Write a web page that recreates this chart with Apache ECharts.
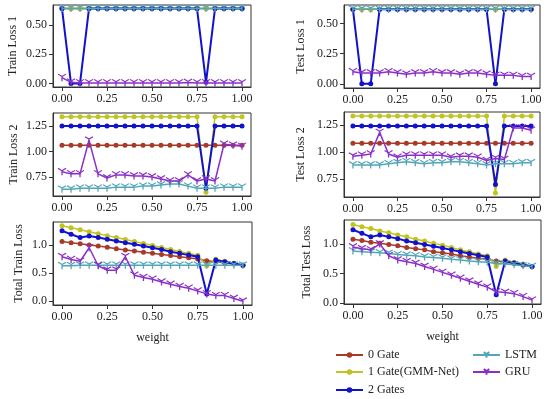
<!DOCTYPE html>
<html><head><meta charset="utf-8">
<script src="https://cdn.jsdelivr.net/npm/echarts@6/dist/echarts.min.js"></script>
<style>html,body{margin:0;padding:0;background:#fff}#c{width:550px;height:399px}</style>
</head><body><div id="c"></div>
<script>
const weights = [0,0.05,0.1,0.15,0.2,0.25,0.3,0.35,0.4,0.45,0.5,0.55,0.6,0.65,0.7,0.75,0.8,0.85,0.9,0.95,1.0];
const seriesNames = ['0 Gate','1 Gate(GMM-Net)','2 Gates','LSTM','GRU'];
const xTicks = [0,0.25,0.5,0.75,1.0];

// Train Loss 1
const trainLoss1_gate0 = [0.64,0.64,0.64,0.64,0.64,0.64,0.64,0.64,0.64,0.64,0.64,0.64,0.64,0.64,0.64,0.64,0.64,0.64,0.64,0.64,0.64];
const trainLoss1_gate1 = [0.64,0.64,0.64,0.64,0.64,0.64,0.64,0.64,0.64,0.64,0.64,0.64,0.64,0.64,0.64,0.64,0.64,0.64,0.64,0.64,0.64];
const trainLoss1_gate2 = [0.64,0.0,0.0,0.64,0.64,0.64,0.64,0.64,0.64,0.64,0.64,0.64,0.64,0.64,0.64,0.64,0.01,0.64,0.64,0.64,0.64];
const trainLoss1_lstm  = [0.64,0.64,0.64,0.64,0.64,0.64,0.64,0.64,0.64,0.64,0.64,0.64,0.64,0.64,0.64,0.64,0.64,0.64,0.64,0.64,0.64];
const trainLoss1_gru   = [0.05,0.01,0.005,0.005,0.005,0.005,0.005,0.005,0.005,0.005,0.005,0.005,0.005,0.005,0.008,0.005,0.005,0.005,0.005,0.005,0.005];

// Test Loss 1
const testLoss1_gate0 = [0.62,0.62,0.62,0.62,0.62,0.62,0.62,0.62,0.62,0.62,0.62,0.62,0.62,0.62,0.62,0.62,0.62,0.62,0.62,0.62,0.62];
const testLoss1_gate1 = [0.62,0.62,0.62,0.62,0.62,0.62,0.62,0.62,0.62,0.62,0.62,0.62,0.62,0.62,0.62,0.62,0.62,0.62,0.62,0.62,0.62];
const testLoss1_gate2 = [0.62,0.0,0.0,0.62,0.62,0.62,0.62,0.62,0.62,0.62,0.62,0.62,0.62,0.62,0.62,0.62,0.0,0.62,0.62,0.62,0.62];
const testLoss1_lstm  = [0.62,0.62,0.62,0.62,0.62,0.62,0.62,0.62,0.62,0.62,0.62,0.62,0.62,0.62,0.62,0.62,0.62,0.62,0.62,0.62,0.62];
const testLoss1_gru   = [0.10,0.09,0.09,0.09,0.10,0.09,0.08,0.09,0.09,0.10,0.09,0.09,0.08,0.09,0.09,0.08,0.07,0.07,0.07,0.06,0.06];

// Train Loss 2
const trainLoss2_gate0 = [1.06,1.06,1.06,1.06,1.06,1.06,1.06,1.06,1.06,1.06,1.06,1.06,1.06,1.06,1.06,1.06,1.06,1.06,1.06,1.06,1.06];
const trainLoss2_gate1 = [1.34,1.34,1.34,1.34,1.34,1.34,1.34,1.34,1.34,1.34,1.34,1.34,1.34,1.34,1.34,1.34,0.60,1.34,1.34,1.34,1.34];
const trainLoss2_gate2 = [1.25,1.25,1.25,1.25,1.25,1.25,1.25,1.25,1.25,1.25,1.25,1.25,1.25,1.25,1.25,1.25,0.64,1.25,1.25,1.25,1.25];
const trainLoss2_lstm  = [0.63,0.63,0.64,0.64,0.64,0.64,0.65,0.65,0.65,0.66,0.66,0.67,0.68,0.68,0.66,0.64,0.64,0.64,0.65,0.65,0.65];
const trainLoss2_gru   = [0.80,0.78,0.78,1.11,0.78,0.74,0.77,0.77,0.76,0.76,0.75,0.73,0.71,0.71,0.77,0.71,0.73,0.71,1.07,1.06,1.05];

// Test Loss 2
const testLoss2_gate0 = [1.08,1.08,1.08,1.08,1.08,1.08,1.08,1.08,1.08,1.08,1.08,1.08,1.08,1.08,1.08,1.08,1.08,1.08,1.08,1.08,1.08];
const testLoss2_gate1 = [1.33,1.33,1.33,1.33,1.33,1.33,1.33,1.33,1.33,1.33,1.33,1.33,1.33,1.33,1.33,1.33,0.62,1.33,1.33,1.33,1.33];
const testLoss2_gate2 = [1.24,1.24,1.24,1.24,1.24,1.24,1.24,1.24,1.24,1.24,1.24,1.24,1.24,1.24,1.24,1.24,0.70,1.24,1.24,1.24,1.24];
const testLoss2_lstm  = [0.88,0.88,0.88,0.88,0.89,0.90,0.91,0.90,0.89,0.90,0.90,0.91,0.91,0.90,0.89,0.88,0.89,0.89,0.89,0.90,0.90];
const testLoss2_gru   = [0.96,0.97,0.98,1.18,0.98,0.95,0.97,0.97,0.97,0.97,0.97,0.95,0.96,0.96,0.95,0.92,0.94,0.93,1.22,1.22,1.20];

// Total Train Loss
const totalTrain_gate0 = [1.06,1.04,1.02,1.00,0.98,0.96,0.93,0.91,0.89,0.87,0.85,0.83,0.81,0.79,0.77,0.75,0.72,0.70,0.68,0.66,0.64];
const totalTrain_gate1 = [1.34,1.305,1.27,1.235,1.20,1.165,1.13,1.095,1.06,1.025,0.99,0.955,0.92,0.885,0.85,0.815,0.63,0.745,0.71,0.675,0.64];
const totalTrain_gate2 = [1.25,1.19,1.13,1.16,1.13,1.10,1.07,1.04,1.01,0.98,0.95,0.92,0.88,0.85,0.82,0.79,0.13,0.73,0.70,0.67,0.64];
const totalTrain_lstm  = [0.63,0.63,0.64,0.64,0.64,0.64,0.64,0.64,0.64,0.64,0.64,0.64,0.64,0.64,0.64,0.64,0.64,0.64,0.64,0.64,0.64];
const totalTrain_gru   = [0.79,0.74,0.71,0.95,0.63,0.55,0.55,0.79,0.46,0.42,0.39,0.34,0.30,0.26,0.23,0.18,0.13,0.10,0.10,0.05,0.00];

// Total Test Loss
const totalTest_gate0 = [1.08,1.06,1.03,1.01,0.99,0.97,0.94,0.92,0.90,0.87,0.85,0.83,0.80,0.78,0.76,0.74,0.71,0.69,0.67,0.64,0.62];
const totalTest_gate1 = [1.33,1.29,1.26,1.22,1.19,1.15,1.12,1.08,1.05,1.01,0.98,0.94,0.90,0.87,0.83,0.80,0.62,0.73,0.69,0.66,0.62];
const totalTest_gate2 = [1.24,1.18,1.12,1.15,1.12,1.09,1.05,1.02,0.99,0.96,0.93,0.90,0.87,0.84,0.81,0.78,0.14,0.71,0.68,0.65,0.62];
const totalTest_lstm  = [0.88,0.87,0.86,0.85,0.84,0.82,0.81,0.80,0.78,0.77,0.76,0.74,0.73,0.71,0.70,0.69,0.67,0.66,0.65,0.63,0.62];
const totalTest_gru   = [0.95,0.92,0.90,1.00,0.80,0.73,0.70,0.67,0.62,0.57,0.52,0.47,0.42,0.37,0.32,0.27,0.19,0.18,0.16,0.11,0.05];

const panels = [
  {name:'Train Loss 1', data:[trainLoss1_gate0,trainLoss1_gate1,trainLoss1_gate2,trainLoss1_lstm,trainLoss1_gru], yTicks:[0,0.25,0.5], dec:2, min:-0.03, max:0.67},
  {name:'Test Loss 1', data:[testLoss1_gate0,testLoss1_gate1,testLoss1_gate2,testLoss1_lstm,testLoss1_gru], yTicks:[0,0.25,0.5], dec:2, min:-0.035, max:0.655},
  {name:'Train Loss 2', data:[trainLoss2_gate0,trainLoss2_gate1,trainLoss2_gate2,trainLoss2_lstm,trainLoss2_gru], yTicks:[0.75,1.0,1.25], dec:2, min:0.563, max:1.377},
  {name:'Test Loss 2', data:[testLoss2_gate0,testLoss2_gate1,testLoss2_gate2,testLoss2_lstm,testLoss2_gru], yTicks:[0.75,1.0,1.25], dec:2, min:0.584, max:1.368},
  {name:'Total Train Loss', data:[totalTrain_gate0,totalTrain_gate1,totalTrain_gate2,totalTrain_lstm,totalTrain_gru], yTicks:[0,0.5,1.0], dec:1, min:-0.067, max:1.407},
  {name:'Total Test Loss', data:[totalTest_gate0,totalTest_gate1,totalTest_gate2,totalTest_lstm,totalTest_gru], yTicks:[0,0.5,1.0], dec:1, min:-0.015, max:1.405}
];

const grids = [
  {left:53, top:5, width:198, height:82},
  {left:344, top:5, width:196, height:83},
  {left:53, top:113, width:198, height:83},
  {left:344, top:112, width:196, height:85},
  {left:53, top:222, width:199, height:83},
  {left:344, top:220, width:197, height:84}
];
const nameGaps = [34, 37, 33, 37, 28, 31];

const colors = ['#a83a28','#c2c41e','#1212cc','#52a6b8','#8a2fc8'];
const FONT = 'Liberation Serif';
const FS = 12;
const triDown = 'path://M10,10L10,20M10,10L1.34,5M10,10L18.66,5';
const symbols = ['circle','circle','circle',triDown,triDown];
const symSizes = [5,5,5,[8,7],[8,7]];

const legendPos = [[335,349],[335,366],[335,384],[472,349],[472,366]];

const option = {
  animation:false,
  backgroundColor:'#fff',
  textStyle:{fontFamily:FONT},
  grid: grids.map(g=>Object.assign({containLabel:false, show:true, borderColor:'#333', borderWidth:1}, g)),
  xAxis: panels.map((p,i)=>({
    type:'value', gridIndex:i, min:-0.05, max:1.05,
    name: i>=4 ? 'weight' : '', nameLocation:'middle', nameGap:27,
    nameTextStyle:{fontFamily:FONT, fontSize:FS, color:'#222'},
    axisLine:{show:true, onZero:false, lineStyle:{color:'#333'}},
    axisTick:{show:true, customValues:xTicks, length:4, lineStyle:{color:'#333'}},
    axisLabel:{customValues:xTicks, fontFamily:FONT, fontSize:FS, color:'#222', margin:6, formatter:v=>v.toFixed(2)},
    splitLine:{show:false}
  })),
  yAxis: panels.map((p,i)=>({
    type:'value', gridIndex:i, min:p.min, max:p.max,
    name:p.name, nameLocation:'middle', nameGap:nameGaps[i], nameRotate:90,
    nameTextStyle:{fontFamily:FONT, fontSize:FS, color:'#222'},
    axisLine:{show:true, onZero:false, lineStyle:{color:'#333'}},
    axisTick:{show:true, customValues:p.yTicks, length:4, lineStyle:{color:'#333'}},
    axisLabel:{customValues:p.yTicks, fontFamily:FONT, fontSize:FS, color:'#222', margin:6, formatter:v=>v.toFixed(p.dec)},
    splitLine:{show:false}
  })),
  legend: seriesNames.map((n,k)=>({
    data:[n], left:legendPos[k][0], top:legendPos[k][1], padding:0, orient:'vertical',
    itemWidth:27, itemHeight:7, itemGap:0,
    textStyle:{fontFamily:FONT, fontSize:FS, color:'#222'}
  })),
  series: []
};

panels.forEach((p,i)=>{
  p.data.forEach((vals,k)=>{
    option.series.push({
      name:seriesNames[k], type:'line', xAxisIndex:i, yAxisIndex:i,
      data: weights.map((w,j)=>[w, vals[j]]),
      symbol:symbols[k], symbolSize:symSizes[k], showSymbol:true,
      lineStyle:{color:colors[k], width:k===2?2:1.5},
      itemStyle:{color:k>=3?'rgba(0,0,0,0)':colors[k], borderColor:colors[k], borderWidth:k>=3?1.2:0},
      z: 2+k
    });
  });
});

const chart = echarts.init(document.getElementById('c'), null, {renderer:'canvas'});
chart.setOption(option);
</script>
</body></html>
